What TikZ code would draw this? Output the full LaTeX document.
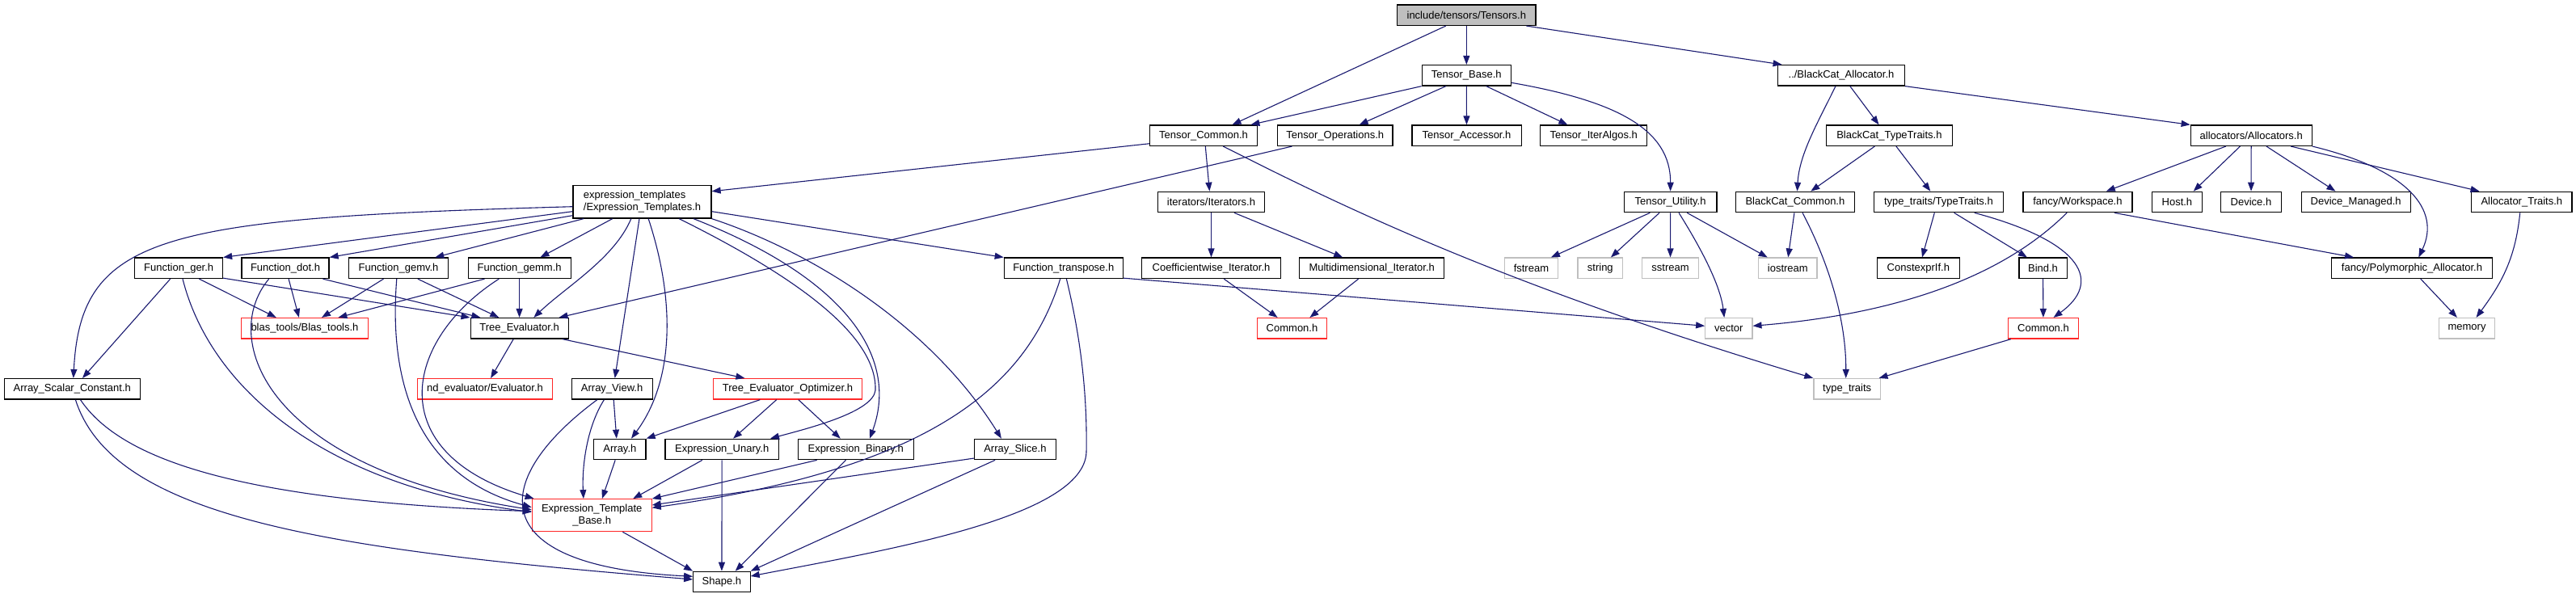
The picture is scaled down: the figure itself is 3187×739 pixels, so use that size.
\documentclass[tikz,border=0pt]{standalone}
\usepackage{fontspec}
\setmainfont{Liberation Sans}
\usetikzlibrary{arrows.meta}
\definecolor{edgec}{RGB}{25,25,112}
\definecolor{redc}{RGB}{255,40,40}
\definecolor{grayc}{RGB}{191,191,191}
\begin{document}
\begin{tikzpicture}[x=1pt,y=-1pt,
  nb/.style={draw=black,line width=1.2pt,fill=white,rectangle,inner sep=0pt,minimum height=25.5pt,font=\fontsize{13pt}{15pt}\selectfont},
  nred/.style={nb,draw=redc},
  ngray/.style={nb,draw=grayc},
  dep/.style={draw=edgec,line width=1.1pt,-{Triangle[length=11pt,width=8pt]}}]
\useasboundingbox[fill=white] (0,0) rectangle (3187,739);
% row 0-2
\node[nb,fill=grayc,minimum width=171.4pt] (tensors) at (1814.3,18.7) {include/tensors/Tensors.h};
\node[nb,minimum width=110.2pt] (tbase) at (1814.3,93.3) {Tensor\_Base.h};
\node[nb,minimum width=157.1pt] (alloc) at (2278,93.3) {../BlackCat\_Allocator.h};
\node[nb,minimum width=133.2pt] (tcommon) at (1489,167.7) {Tensor\_Common.h};
\node[nb,minimum width=142.4pt] (tops) at (1651.8,167.7) {Tensor\_Operations.h};
\node[nb,minimum width=135.2pt] (taccess) at (1814.5,167.7) {Tensor\_Accessor.h};
\node[nb,minimum width=132.2pt] (titer) at (1971.7,167.7) {Tensor\_IterAlgos.h};
\node[nb,minimum width=156.4pt] (bctt) at (2337.4,167.7) {BlackCat\_TypeTraits.h};
\node[nb,minimum width=150pt] (allocs) at (2785.2,167.7) {allocators/Allocators.h};
% row 3
\node[nb,minimum width=171.1pt,minimum height=40.7pt,align=left] (et) at (794.5,249.7) {expression\_templates\\/Expression\_Templates.h};
\node[nb,minimum width=131.6pt] (iters) at (1498.5,250) {iterators/Iterators.h};
\node[nb,minimum width=114.8pt] (tutil) at (2066.6,250) {Tensor\_Utility.h};
\node[nb,minimum width=147pt] (bccommon) at (2220.9,250) {BlackCat\_Common.h};
\node[nb,minimum width=159.9pt] (tttt) at (2398.4,250) {type\_traits/TypeTraits.h};
\node[nb,minimum width=135pt] (workspace) at (2570.4,250) {fancy/Workspace.h};
\node[nb,minimum width=61.7pt] (host) at (2693.4,250) {Host.h};
\node[nb,minimum width=75.3pt] (device) at (2785,250) {Device.h};
\node[nb,minimum width=135pt] (devman) at (2914.7,250) {Device\_Managed.h};
\node[nb,minimum width=124.5pt] (alltraits) at (3119.8,250) {Allocator\_Traits.h};
% row 4
\node[nb,minimum width=108.7pt] (fger) at (221.2,331.8) {Function\_ger.h};
\node[nb,minimum width=108.1pt] (fdot) at (353,331.8) {Function\_dot.h};
\node[nb,minimum width=123pt] (fgemv) at (493.1,331.8) {Function\_gemv.h};
\node[nb,minimum width=127pt] (fgemm) at (642.6,331.8) {Function\_gemm.h};
\node[nb,minimum width=147pt] (ftrans) at (1315.8,331.8) {Function\_transpose.h};
\node[nb,minimum width=171.4pt] (coeff) at (1498.5,331.8) {Coefficientwise\_Iterator.h};
\node[nb,minimum width=179pt] (multi) at (1697.2,331.8) {Multidimensional\_Iterator.h};
\node[ngray,minimum width=66.4pt] (fstream) at (1894.4,331.8) {fstream};
\node[ngray,minimum width=55.6pt] (string) at (1979.8,331.8) {string};
\node[ngray,minimum width=69.9pt] (sstream) at (2066.5,331.8) {sstream};
\node[ngray,minimum width=72.5pt] (iostream) at (2211.8,331.8) {iostream};
\node[nb,minimum width=101.7pt] (constexprif) at (2373.3,331.8) {ConstexprIf.h};
\node[nb,minimum width=59.2pt] (bind) at (2527.5,331.8) {Bind.h};
\node[nb,minimum width=199.3pt] (polyalloc) at (2984,331.8) {fancy/Polymorphic\_Allocator.h};
% row 5
\node[nred,minimum width=157.1pt] (blas) at (377,406.3) {blas\_tools/Blas\_tools.h};
\node[nb,minimum width=121pt] (treeeval) at (642.6,406.3) {Tree\_Evaluator.h};
\node[nred,minimum width=86.7pt] (commonL) at (1598.5,406.3) {Common.h};
\node[ngray,minimum width=58.2pt] (vector) at (2138.8,406.3) {vector};
\node[nred,minimum width=87.3pt] (commonR) at (2528,406.3) {Common.h};
\node[ngray,minimum width=69.3pt] (memory) at (3052,406.3) {memory};
% row 6
\node[nb,minimum width=168.4pt] (asc) at (89.3,481.3) {Array\_Scalar\_Constant.h};
\node[nred,minimum width=167.4pt] (ndeval) at (600,481.3) {nd\_evaluator/Evaluator.h};
\node[nb,minimum width=100pt] (arrview) at (757.1,481.3) {Array\_View.h};
\node[nred,minimum width=183.7pt] (teo) at (974.5,481.3) {Tree\_Evaluator\_Optimizer.h};
\node[ngray,minimum width=82.6pt] (typetraits) at (2285.2,481.3) {type\_traits};
% row 7
\node[nb,minimum width=64.3pt] (array) at (766.9,556) {Array.h};
\node[nb,minimum width=140.3pt] (eunary) at (893.2,556) {Expression\_Unary.h};
\node[nb,minimum width=142.9pt] (ebinary) at (1058.7,556) {Expression\_Binary.h};
\node[nb,minimum width=100.5pt] (aslice) at (1255.9,556) {Array\_Slice.h};
\node[nred,minimum width=147.9pt,minimum height=40pt,align=center] (etb) at (732.2,637.7) {Expression\_Template\\\_Base.h};
\node[nb,minimum width=70.4pt] (shape) at (892.9,720) {Shape.h};
% edges: top part
\draw[dep] ([xshift=-25.5pt]tensors.south) -- ([xshift=35.5pt]tcommon.north);
\draw[dep] (tensors) -- (tbase);
\draw[dep] ([xshift=74pt]tensors.south) -- ([xshift=-73.4pt]alloc.north);
\draw[dep] (tbase.south west) -- ([xshift=58.4pt]tcommon.north);
\draw[dep] ([xshift=-25.5pt]tbase.south) -- ([xshift=29.8pt]tops.north);
\draw[dep] (tbase) -- (taccess);
\draw[dep] ([xshift=24.5pt]tbase.south) -- ([xshift=-32.4pt]titer.north);
\draw[dep] ([yshift=4.3pt]tbase.south east) .. controls (2000,125) and (2067,160) .. (tutil.north);
\draw[dep] ([yshift=3.3pt]tcommon.south west) -- ([yshift=-8pt]et.north east);
\draw[dep] ([xshift=2.3pt]tcommon.south) -- ([xshift=-2.1pt]iters.north);
\draw[dep] ([xshift=24.3pt]tcommon.south) .. controls (1650,250) and (1850,350) .. (typetraits.north west);
\draw[dep] ([xshift=-53.3pt]tops.south) -- ([xshift=48.9pt]treeeval.north);
\draw[dep] (iters) -- (coeff);
\draw[dep] ([xshift=28.5pt]iters.south) -- ([xshift=-36pt]multi.north);
\draw[dep] ([xshift=15.8pt]coeff.south) -- ([xshift=-17.9pt]commonL.north);
\draw[dep] ([xshift=-16.6pt]multi.south) -- ([xshift=21.9pt]commonL.north);
\draw[dep] ([xshift=-25.3pt]tutil.south) -- ([xshift=24.5pt]fstream.north);
\draw[dep] ([xshift=-13.6pt]tutil.south) -- ([xshift=13.1pt]string.north);
\draw[dep] (tutil) -- (sstream);
\draw[dep] ([xshift=20.6pt]tutil.south) -- ([xshift=-25.1pt]iostream.north);
\draw[dep] ([xshift=10.4pt]tutil.south) .. controls (2100,300) and (2128,350) .. ([xshift=-5.6pt]vector.north);
\draw[dep] ([xshift=-7.1pt]alloc.south) .. controls (2250,150) and (2226,190) .. ([xshift=2.6pt]bccommon.north);
\draw[dep] ([xshift=10.8pt]alloc.south) -- ([xshift=-12.9pt]bctt.north);
\draw[dep] (alloc.south east) -- (allocs.north west);
\draw[dep] ([xshift=-18pt]bctt.south) -- ([xshift=19.4pt]bccommon.north);
\draw[dep] ([xshift=8.5pt]bctt.south) -- ([xshift=-10.1pt]tttt.north);
\draw[dep] ([xshift=-1pt]bccommon.south) -- ([xshift=0.4pt]iostream.north);
\draw[dep] ([xshift=9.1pt]bccommon.south) .. controls (2265,330) and (2284,400) .. ([xshift=-1.5pt]typetraits.north);
\draw[dep] ([xshift=-5.1pt]tttt.south) -- ([xshift=4.7pt]constexprif.north);
\draw[dep] ([xshift=19.2pt]tttt.south) -- ([xshift=-19.6pt]bind.north);
\draw[dep] ([xshift=44.3pt]tttt.south) .. controls (2580,300) and (2600,350) .. ([xshift=12.5pt]commonR.north);
\draw[dep] (bind) -- (commonR);
\draw[dep] ([xshift=-40.2pt]commonR.south) -- ([xshift=39.3pt]typetraits.north);
\draw[dep] ([xshift=-31.4pt]allocs.south) -- ([xshift=35.4pt]workspace.north);
\draw[dep] ([xshift=-13.8pt]allocs.south) -- ([xshift=20.3pt]host.north);
\draw[dep] (allocs) -- (device);
\draw[dep] ([xshift=18.8pt]allocs.south) -- ([xshift=-25.3pt]devman.north);
\draw[dep] ([xshift=48.9pt]allocs.south) -- ([xshift=-52.3pt]alltraits.north);
\draw[dep] (allocs.south east) .. controls (2980,210) and (3020,260) .. ([xshift=8.3pt]polyalloc.north);
\draw[dep] ([xshift=45.4pt]workspace.south) -- ([xshift=-72pt]polyalloc.north);
\draw[dep] ([xshift=-13.3pt]workspace.south) .. controls (2470,350) and (2330,390) .. ([yshift=3pt]vector.east);
\draw[dep] ([xshift=10.8pt]polyalloc.south) -- ([xshift=-12.1pt]memory.north);
\draw[dep] ([xshift=-2.1pt]alltraits.south) .. controls (3112,320) and (3095,350) .. ([xshift=11.5pt]memory.north);
% Function_transpose
\draw[dep] ([yshift=1pt]ftrans.south east) -- ([yshift=3pt]vector.west);
\draw[dep] ([xshift=-4.1pt]ftrans.south) .. controls (1270,480) and (1150,580) .. ([yshift=9.4pt]etb.east);
\draw[dep] ([xshift=3.6pt]ftrans.south) .. controls (1340,430) and (1345,500) .. (1344,560) .. controls (1340,640) and (1100,680) .. ([yshift=7pt]shape.east);
% expression templates
\draw[dep] ([yshift=-12pt]et.east) -- (ftrans.north west);
\draw[dep] ([yshift=-12pt]et.west) -- (fger.north east);
\draw[dep] ([yshift=-17pt]et.west) -- (fdot.north east);
\draw[dep] ([xshift=-72.5pt]et.south) -- ([xshift=45.2pt]fgemv.north);
\draw[dep] ([xshift=-36.8pt]et.south) -- ([xshift=25.8pt]fgemm.north);
\draw[dep] ([yshift=-6pt]et.west) .. controls (200,270) and (100,290) .. ([xshift=1.5pt]asc.north);
\draw[dep] ([xshift=-13.7pt]et.south) .. controls (760,320) and (700,355) .. ([xshift=17.7pt]treeeval.north);
\draw[dep] ([xshift=-3.5pt]et.south) -- ([xshift=3.6pt]arrview.north);
\draw[dep] ([xshift=7.7pt]et.south) .. controls (835,370) and (835,470) .. ([xshift=14.1pt]array.north);
\draw[dep] ([xshift=45.7pt]et.south) .. controls (1000,350) and (1085,420) .. (1083,483) .. controls (1080,510) and (1000,530) .. ([xshift=59.8pt]eunary.north);
\draw[dep] ([xshift=63.5pt]et.south) .. controls (1060,350) and (1110,450) .. ([xshift=17.3pt]ebinary.north);
\draw[dep] (et.south east) .. controls (1000,310) and (1150,400) .. ([xshift=-17pt]aslice.north);
% functions
\draw[dep] ([xshift=-10.5pt]fger.south) -- ([xshift=12.7pt]asc.north);
\draw[dep] ([xshift=4.8pt]fger.south) .. controls (260,480) and (400,600) .. ([yshift=4pt]etb.west);
\draw[dep] ([xshift=25.2pt]fger.south) -- ([xshift=-35.2pt]blas.north);
\draw[dep] ([yshift=1pt]fger.south east) -- (treeeval.north west);
\draw[dep] ([xshift=-20.3pt]fdot.south) .. controls (270,420) and (330,580) .. ([yshift=7pt]etb.west);
\draw[dep] ([xshift=4.1pt]fdot.south) -- ([xshift=-7.1pt]blas.north);
\draw[dep] ([xshift=46.5pt]fdot.south) -- ([xshift=-48.2pt]treeeval.north);
\draw[dep] ([xshift=-18.6pt]fgemv.south) -- ([xshift=21pt]blas.north);
\draw[dep] ([xshift=-2.3pt]fgemv.south) .. controls (480,480) and (520,590) .. ([yshift=10pt]etb.west);
\draw[dep] ([xshift=23.7pt]fgemv.south) -- ([xshift=-25.3pt]treeeval.north);
\draw[dep] ([xshift=-43.1pt]fgemm.south) -- ([xshift=41.4pt]blas.north);
\draw[dep] ([xshift=-25.3pt]fgemm.south) .. controls (500,420) and (470,560) .. ([xshift=3pt]etb.north west);
\draw[dep] (fgemm) -- (treeeval);
% lower part
\draw[dep] ([xshift=-7.4pt]treeeval.south) -- ([xshift=7.1pt]ndeval.north);
\draw[dep] ([xshift=53.4pt]treeeval.south) -- ([xshift=-53.1pt]teo.north);
\draw[dep] ([xshift=-34.2pt]teo.south) -- (array.north east);
\draw[dep] ([xshift=-13.8pt]teo.south) -- ([xshift=13.9pt]eunary.north);
\draw[dep] ([xshift=13.3pt]teo.south) -- ([xshift=-18.9pt]ebinary.north);
\draw[dep] ([xshift=2.1pt]arrview.south) -- ([xshift=-4.1pt]array.north);
\draw[dep] ([xshift=-9.7pt]arrview.south) .. controls (725,530) and (720,580) .. ([xshift=-10.3pt]etb.north);
\draw[dep] ([xshift=-18.3pt]arrview.south) .. controls (610,590) and (590,700) .. ([yshift=6.7pt]shape.west);
\draw[dep] ([xshift=-5.7pt]array.south) -- ([xshift=12.7pt]etb.north);
\draw[dep] ([xshift=-24.3pt]eunary.south) -- ([xshift=51pt]etb.north);
\draw[dep] (eunary) -- (shape);
\draw[dep] ([xshift=-48pt]ebinary.south) -- (etb.north east);
\draw[dep] ([xshift=-12.3pt]ebinary.south) -- ([xshift=16.8pt]shape.north);
\draw[dep] ([yshift=2.3pt]aslice.south west) -- ([yshift=12.7pt]etb.east);
\draw[dep] ([xshift=-24.8pt]aslice.south) -- (shape.north east);
\draw[dep] ([xshift=38.2pt]etb.south) -- (shape.north west);
\draw[dep] ([xshift=10.2pt]asc.south) .. controls (150,570) and (300,620) .. ([yshift=5pt]etb.west);
\draw[dep] ([xshift=4.1pt]asc.south) .. controls (140,640) and (400,680) .. ([yshift=3pt]shape.west);
\end{tikzpicture}
\end{document}
